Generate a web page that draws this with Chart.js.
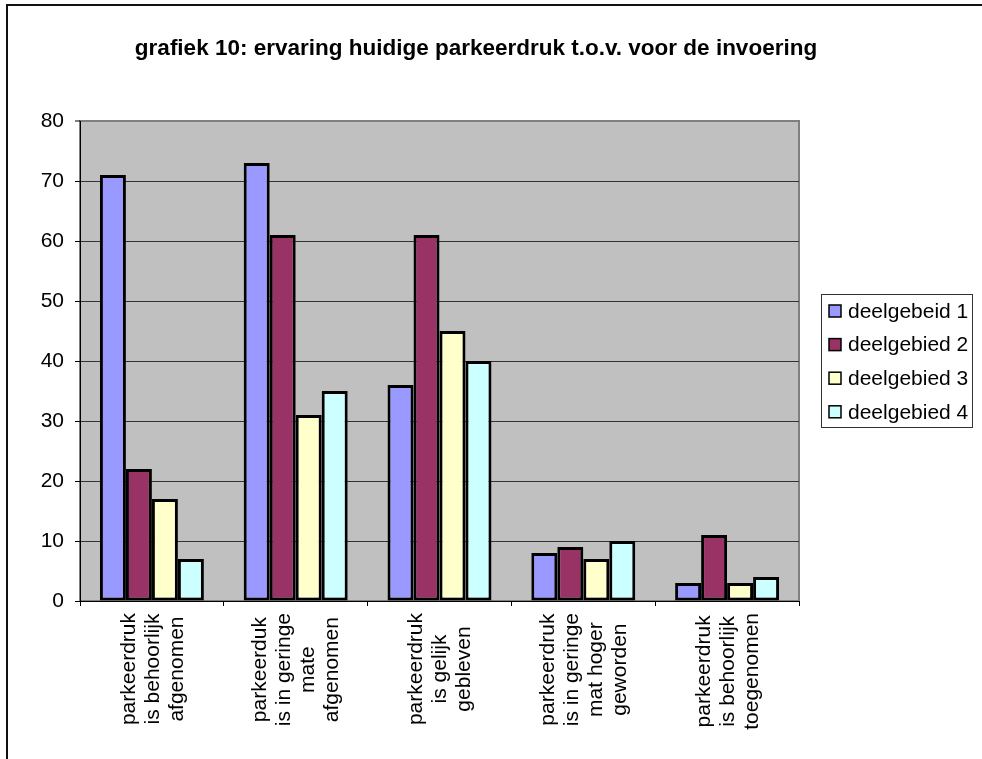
<!DOCTYPE html>
<html>
<head>
<meta charset="utf-8">
<script src="https://cdn.jsdelivr.net/npm/chart.js@4"></script>
<style>
    html, body { margin: 0; padding: 0; background: #fff; }
    #wrap { position: relative; width: 982px; height: 759px; overflow: hidden; }
    #frame { position: absolute; left: 6px; top: 4px; right: -10px; bottom: -10px;
             border-top: 2px solid #111; border-left: 2px solid #111; pointer-events: none; }
    canvas { position: absolute; left: 0; top: 0; }
</style>
</head>
<body>
<div id="wrap">
    <canvas id="chart" width="982" height="759"></canvas>
    <div id="frame"></div>
</div>
<script>
// grafiek 10 - ervaring parkeerdruk per deelgebied
const TITLE = 'grafiek 10: ervaring huidige parkeerdruk t.o.v. voor de invoering';

const categories = [
    ['parkeerdruk', 'is behoorlijk', 'afgenomen'],
    ['parkeerduk', 'is in geringe', 'mate', 'afgenomen'],
    ['parkeerdruk', 'is gelijk', 'gebleven'],
    ['parkeerdruk', 'is in geringe', 'mat hoger', 'geworden'],
    ['parkeerdruk', 'is behoorlijk', 'toegenomen']
];

const seriesNames = ['deelgebeid 1', 'deelgebied 2', 'deelgebied 3', 'deelgebied 4'];
const deelgebied1 = [71, 73, 36, 8, 3];
const deelgebied2 = [22, 61, 61, 9, 11];
const deelgebied3 = [17, 31, 45, 7, 3];
const deelgebied4 = [7, 35, 40, 10, 4];
const yTicks = [0, 10, 20, 30, 40, 50, 60, 70, 80];

const COLORS = ['#9999FF', '#993366', '#FFFFCC', '#CCFFFF'];
const FONT = "'Liberation Sans', Arial, sans-serif";
const FONT_SIZE = 21;

// grey plot area with its thin grey frame
const plotBackground = {
    id: 'plotBackground',
    beforeDraw(chart) {
        const { ctx, chartArea: a } = chart;
        ctx.save();
        ctx.fillStyle = '#C0C0C0';
        ctx.fillRect(a.left, a.top, a.right - a.left, a.bottom - a.top);
        ctx.strokeStyle = '#808080';
        ctx.lineWidth = 2;
        ctx.strokeRect(a.left, a.top, a.right - a.left, a.bottom - a.top);
        ctx.restore();
    }
};

// title, rotated multi-line category labels and boxed legend
const decorations = {
    id: 'decorations',
    afterDraw(chart) {
        const { ctx } = chart;
        const xs = chart.scales.x;
        ctx.save();

        ctx.fillStyle = '#000';
        ctx.font = 'bold 22.5px ' + FONT;
        ctx.textAlign = 'center';
        ctx.textBaseline = 'middle';
        ctx.fillText(TITLE, 476, 49);

        ctx.font = FONT_SIZE + 'px ' + FONT;
        const lineH = 24;
        categories.forEach((lines, i) => {
            const cx = xs.getPixelForValue(i);
            const maxW = Math.max(...lines.map(l => ctx.measureText(l).width));
            const cy = xs.top + 12 + maxW / 2;
            lines.forEach((line, j) => {
                ctx.save();
                ctx.translate(cx + (j - (lines.length - 1) / 2) * lineH, cy);
                ctx.rotate(-Math.PI / 2);
                ctx.fillText(line, 0, 1);
                ctx.restore();
            });
        });

        // legend
        const lx = 821, ly = 294, lw = 151, lh = 133;
        ctx.fillStyle = '#fff';
        ctx.fillRect(lx, ly, lw, lh);
        ctx.strokeStyle = '#333';
        ctx.lineWidth = 1;
        ctx.strokeRect(lx + 0.5, ly + 0.5, lw, lh);
        ctx.textAlign = 'left';
        chart.data.datasets.forEach((ds, k) => {
            const ry = ly + 17 + k * 33.6;
            ctx.fillStyle = ds.backgroundColor;
            ctx.fillRect(lx + 8, ry - 6, 12, 12);
            ctx.strokeStyle = '#000';
            ctx.lineWidth = 1.5;
            ctx.strokeRect(lx + 8, ry - 6, 12, 12);
            ctx.fillStyle = '#000';
            ctx.fillText(ds.label, lx + 27, ry + 1);
        });
        ctx.restore();
    }
};

const seriesData = [deelgebied1, deelgebied2, deelgebied3, deelgebied4];

new Chart(document.getElementById('chart'), {
    type: 'bar',
    data: {
        labels: categories.map(c => c.join(' ')),
        datasets: seriesNames.map((name, k) => ({
            label: name,
            data: seriesData[k],
            backgroundColor: COLORS[k],
            borderColor: '#000',
            borderWidth: 3,
            borderSkipped: false,
            inflateAmount: 0,
            categoryPercentage: 0.723,
            barPercentage: 1
        }))
    },
    options: {
        responsive: false,
        animation: false,
        layout: { padding: { top: 121, left: 0, right: 183, bottom: 0 } },
        scales: {
            x: {
                ticks: { display: false },
                grid: {
                    offset: true,
                    drawOnChartArea: false,
                    drawTicks: true,
                    tickLength: 5,
                    tickColor: '#000',
                    tickWidth: 1
                },
                border: { color: '#000', width: 1 },
                afterFit(scale) { scale.height = 158; }
            },
            y: {
                min: 0,
                max: 80,
                afterBuildTicks(scale) { scale.ticks = yTicks.map(v => ({ value: v })); },
                ticks: {
                    color: '#000',
                    padding: 11,
                    font: { family: FONT, size: FONT_SIZE }
                },
                grid: {
                    color: c => (c.tick && c.tick.value === 80 ? '#808080' : '#333'),
                    lineWidth: c => (c.tick && c.tick.value === 80 ? 2 : 1),
                    tickLength: 5,
                    tickColor: '#000',
                    tickWidth: 1
                },
                border: { color: '#000', width: 1 },
                afterFit(scale) { scale.width = 80; }
            }
        },
        plugins: {
            legend: { display: false },
            title: { display: false },
            tooltip: { enabled: false }
        }
    },
    plugins: [plotBackground, decorations]
});
</script>
</body>
</html>
